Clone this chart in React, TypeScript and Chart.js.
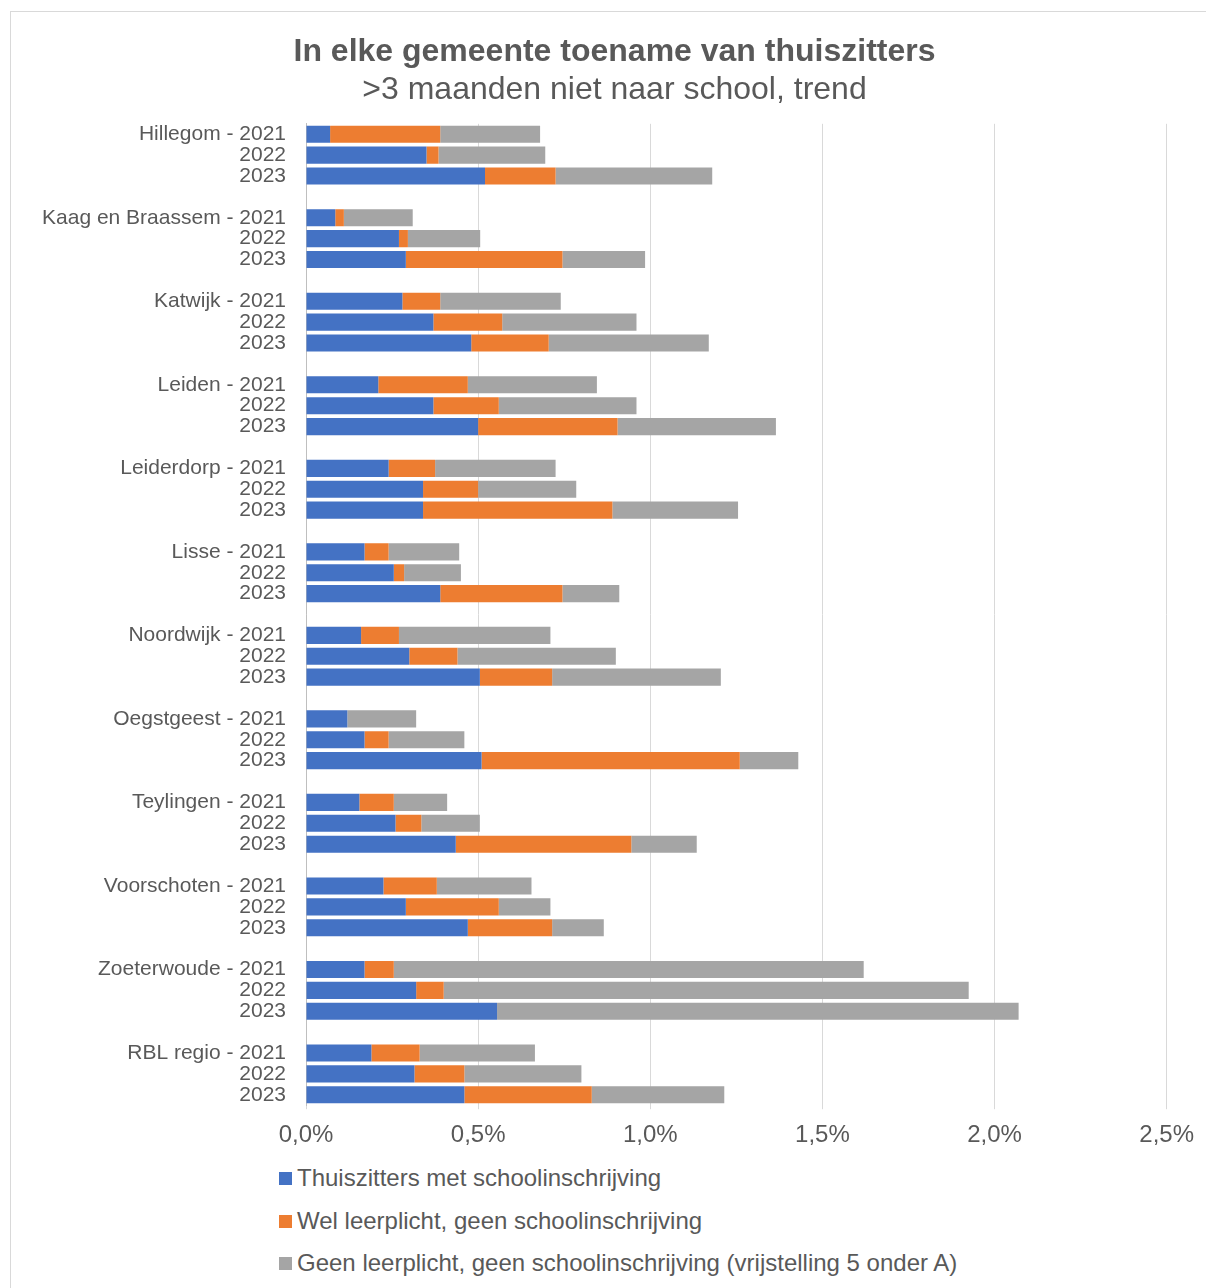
import React, { useEffect, useRef } from "react";
import { Chart, registerables } from "chart.js";

Chart.register(...registerables);

const municipalities = [
  "Hillegom",
  "Kaag en Braassem",
  "Katwijk",
  "Leiden",
  "Leiderdorp",
  "Lisse",
  "Noordwijk",
  "Oegstgeest",
  "Teylingen",
  "Voorschoten",
  "Zoeterwoude",
  "RBL regio",
];
const years = ["2021", "2022", "2023"];

// Percentages (%), per municipality: 2021, 2022, 2023
const withSchool = [
  0.07, 0.35, 0.52,
  0.085, 0.27, 0.29,
  0.28, 0.37, 0.48,
  0.21, 0.37, 0.5,
  0.24, 0.34, 0.34,
  0.17, 0.255, 0.39,
  0.16, 0.3, 0.505,
  0.12, 0.17, 0.51,
  0.155, 0.26, 0.435,
  0.225, 0.29, 0.47,
  0.17, 0.32, 0.555,
  0.19, 0.315, 0.46,
];
const compulsoryNoSchool = [
  0.32, 0.035, 0.205,
  0.025, 0.026, 0.455,
  0.11, 0.2, 0.225,
  0.26, 0.19, 0.405,
  0.135, 0.16, 0.55,
  0.07, 0.03, 0.355,
  0.11, 0.14, 0.21,
  0, 0.07, 0.75,
  0.1, 0.075, 0.51,
  0.155, 0.27, 0.245,
  0.085, 0.08, 0,
  0.14, 0.145, 0.37,
];
const exemption = [
  0.29, 0.31, 0.455,
  0.2, 0.21, 0.24,
  0.35, 0.39, 0.465,
  0.375, 0.4, 0.46,
  0.35, 0.285, 0.365,
  0.205, 0.165, 0.165,
  0.44, 0.46, 0.49,
  0.2, 0.22, 0.17,
  0.155, 0.17, 0.19,
  0.275, 0.15, 0.15,
  1.365, 1.525, 1.515,
  0.335, 0.34, 0.385,
];

const seriesNames = [
  "Thuiszitters met schoolinschrijving",
  "Wel leerplicht, geen schoolinschrijving",
  "Geen leerplicht, geen schoolinschrijving (vrijstelling 5 onder A)",
];
const seriesColors = ["#4472C4", "#ED7D31", "#A5A5A5"];
const xMin = 0;
const xMax = 2.5;
const xStep = 0.5;

const FONT = "'Liberation Sans', Arial, Helvetica, sans-serif";
const TEXT = "#595959";

function buildLabels(): string[] {
  const out: string[] = [];
  municipalities.forEach((m, i) => {
    years.forEach((y, j) => out.push(j === 0 ? `${m} - ${y}` : y));
    if (i < municipalities.length - 1) out.push("");
  });
  return out;
}

function spread(values: number[]): (number | null)[] {
  const out: (number | null)[] = [];
  municipalities.forEach((_, i) => {
    years.forEach((_, j) => out.push(values[i * years.length + j]));
    if (i < municipalities.length - 1) out.push(null);
  });
  return out;
}

const noLabelClip = {
  id: "noLabelClip",
  afterLayout(chart: any) {
    const y = chart.scales?.y;
    if (y) y._computeLabelArea = () => undefined;
  },
};

export default function App() {
  const ref = useRef<HTMLCanvasElement | null>(null);

  useEffect(() => {
    document.body.style.margin = "0";
    const canvas = ref.current;
    if (!canvas) return;
    const series = [withSchool, compulsoryNoSchool, exemption];
    const chart = new Chart(canvas, {
      type: "bar",
      data: {
        labels: buildLabels(),
        datasets: series.map((vals, k) => ({
          label: seriesNames[k],
          data: spread(vals),
          backgroundColor: seriesColors[k],
          borderWidth: 0,
          barPercentage: 0.82,
          categoryPercentage: 1.0,
        })),
      },
      plugins: [noLabelClip],
      options: {
        indexAxis: "y",
        responsive: false,
        animation: false,
        devicePixelRatio: 1,
        layout: { padding: { left: 62, right: 39, top: 0, bottom: 0 } },
        plugins: {
          legend: { display: false },
          tooltip: { enabled: false },
          title: {
            display: true,
            text: "In elke gemeente toename van thuiszitters",
            color: TEXT,
            font: { family: FONT, size: 32, weight: "bold", lineHeight: 1.2 },
            padding: { top: 33, bottom: 0 },
          },
          subtitle: {
            display: true,
            text: ">3 maanden niet naar school, trend",
            color: TEXT,
            font: { family: FONT, size: 32, weight: "normal", lineHeight: 1.2 },
            padding: { top: 0, bottom: 14 },
          },
        },
        scales: {
          x: {
            stacked: true,
            min: xMin,
            max: xMax,
            ticks: {
              stepSize: xStep,
              color: TEXT,
              font: { family: FONT, size: 24 },
              padding: 12,
              callback: (v: any) => Number(v).toFixed(1).replace(".", ",") + "%",
            },
            grid: {
              color: "#d9d9d9",
              lineWidth: 1,
              drawTicks: true,
              tickLength: 4,
            },
            border: { display: false },
          },
          y: {
            stacked: true,
            offset: true,
            grid: { display: false, drawTicks: false },
            border: { display: true, color: "#bfbfbf", width: 1 },
            ticks: {
              autoSkip: false,
              color: TEXT,
              font: { family: FONT, size: 21 },
              padding: 20,
            },
            afterFit: (scale: any) => {
              scale.width = 244;
            },
          },
        },
      },
    });
    return () => chart.destroy();
  }, []);

  const legendTops = [1178, 1221, 1263];

  return (
    <div
      style={{
        position: "relative",
        width: 1206,
        height: 1288,
        overflow: "hidden",
        background: "#ffffff",
        fontFamily: FONT,
      }}
    >
      <div
        style={{
          position: "absolute",
          left: 10,
          top: 11,
          width: 1300,
          height: 1400,
          border: "1px solid #d9d9d9",
          boxSizing: "border-box",
        }}
      />
      <canvas
        ref={ref}
        width={1206}
        height={1162}
        style={{ position: "absolute", left: 0, top: 0, width: 1206, height: 1162 }}
      />
      {seriesNames.map((name, k) => (
        <div
          key={name}
          style={{
            position: "absolute",
            left: 279,
            top: legendTops[k] - 15,
            height: 30,
            display: "flex",
            alignItems: "center",
            whiteSpace: "nowrap",
            color: TEXT,
            fontSize: 24,
            fontFamily: FONT,
          }}
        >
          <span
            style={{
              display: "inline-block",
              width: 13,
              height: 13,
              background: seriesColors[k],
              marginRight: 5,
            }}
          />
          <span>{name}</span>
        </div>
      ))}
    </div>
  );
}
